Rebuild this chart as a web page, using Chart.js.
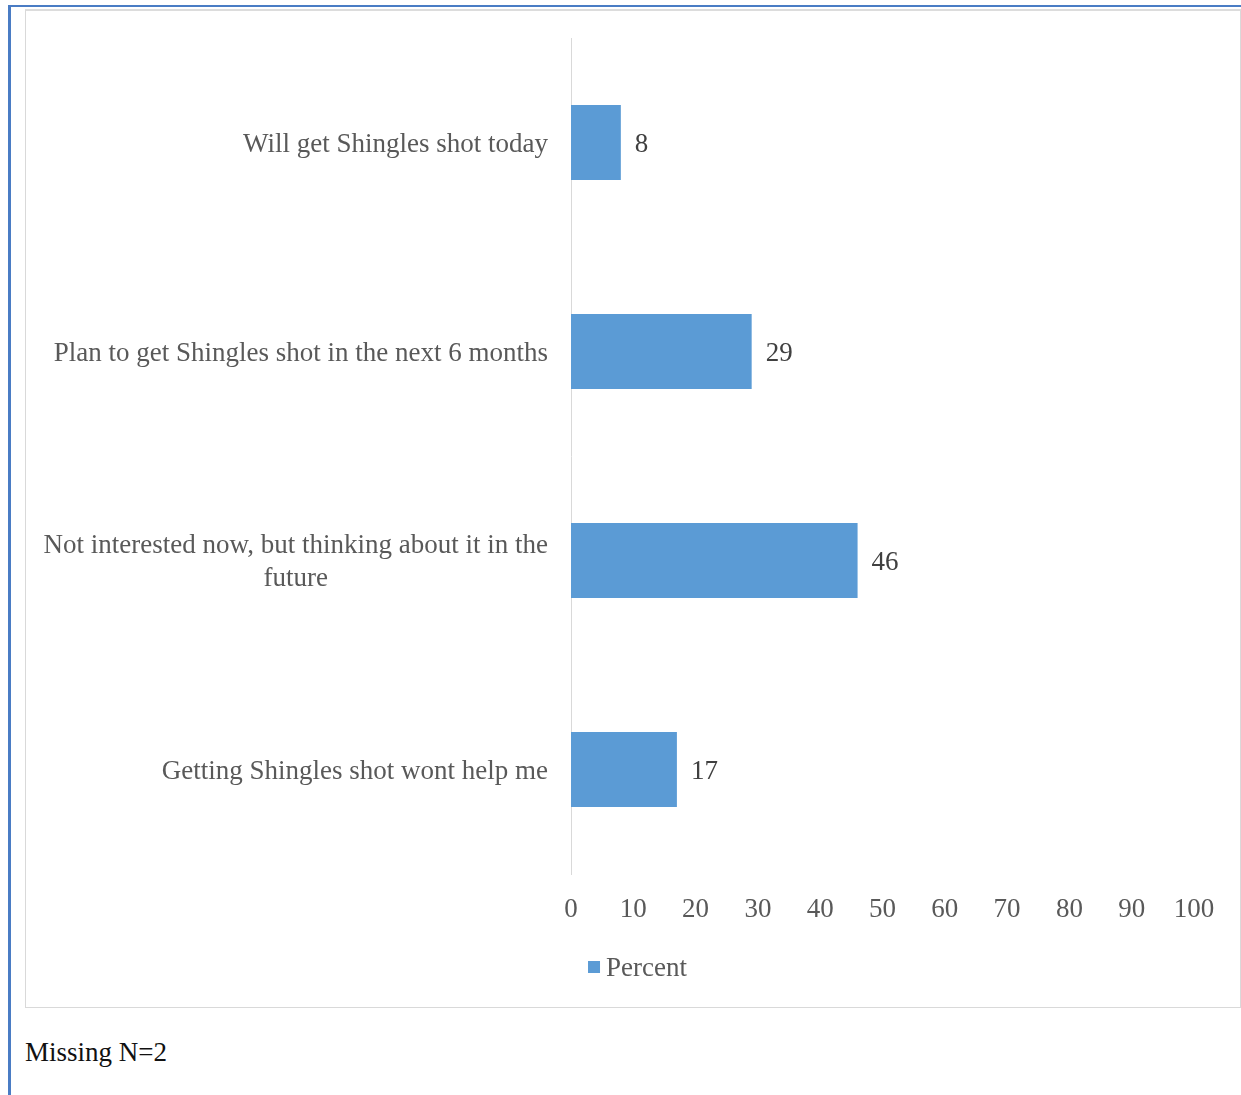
<!DOCTYPE html>
<html>
<head>
<meta charset="utf-8">
<script src="https://cdn.jsdelivr.net/npm/chart.js@4.4.1/dist/chart.umd.min.js"></script>
<style>
    html, body { margin: 0; padding: 0; background: #fff; }
    #frame {
        position: absolute; left: 8px; top: 5px; width: 1240px; height: 1100px;
        border-left: 3px solid #4a7cc4; border-top: 2px solid #4a7cc4;
    }
    #box {
        position: absolute; left: 25px; top: 9px; width: 1214px; height: 996px;
        border: 1px solid #d9d9d9; border-top: 2px solid #dcdcdc;
    }
    #wrap { position: absolute; left: 26px; top: 11px; width: 1213px; height: 994px; }
    #note {
        position: absolute; left: 25px; top: 1037px;
        font-family: "Liberation Serif", "Times New Roman", serif; font-size: 27px; color: #111;
    }
</style>
</head>
<body>
<div id="frame"></div>
<div id="box"></div>
<div id="wrap"><canvas id="chart"></canvas></div>
<div id="note">Missing N=2</div>

<script>
var categories = [
    ["Will get Shingles shot today"],
    ["Plan to get Shingles shot in the next 6 months"],
    ["Not interested now, but thinking about it in the", "future"],
    ["Getting Shingles shot wont help me"]
];
var percent = [8, 29, 46, 17];
var xTicks = [0, 10, 20, 30, 40, 50, 60, 70, 80, 90, 100];

const serif = '"Liberation Serif", "Times New Roman", serif';

// y labels drawn by hand so a wrapped label is centred line by line, like Word does
const yLabels = {
    id: "yLabels",
    afterDraw(chart) {
        const ctx = chart.ctx;
        const y = chart.scales.y;
        ctx.save();
        ctx.font = "27px " + serif;
        ctx.fillStyle = "#595959";
        ctx.textBaseline = "middle";
        ctx.textAlign = "center";
        categories.forEach((lines, i) => {
            const cy = y.getPixelForValue(i) + 2;
            const lh = 33;
            const right = y.right - 23;
            let widest = 0;
            lines.forEach(l => widest = Math.max(widest, ctx.measureText(l).width));
            const mid = right - widest / 2;
            lines.forEach((l, k) => {
                ctx.fillText(l, mid, cy + (k - (lines.length - 1) / 2) * lh);
            });
        });
        ctx.restore();
    }
};

const valueLabels = {
    id: "valueLabels",
    afterDatasetsDraw(chart) {
        const ctx = chart.ctx;
        const meta = chart.getDatasetMeta(0);
        ctx.save();
        ctx.font = "27px " + serif;
        ctx.fillStyle = "#404040";
        ctx.textAlign = "left";
        ctx.textBaseline = "middle";
        meta.data.forEach((bar, i) => {
            ctx.fillText(percent[i], bar.x + 14, bar.y + 2);
        });
        ctx.restore();
    }
};

// small square legend, tighter than the built in one
const legendBox = {
    id: "legendBox",
    afterDraw(chart) {
        const ctx = chart.ctx;
        const ds = chart.data.datasets[0];
        ctx.save();
        ctx.font = "27px " + serif;
        const tw = ctx.measureText(ds.label).width;
        const total = 12 + 6 + tw;
        const x0 = chart.width / 2 + 5 - total / 2;
        const cy = 956;
        ctx.fillStyle = ds.backgroundColor;
        ctx.fillRect(x0, cy - 6, 12, 12);
        ctx.fillStyle = "#595959";
        ctx.textBaseline = "middle";
        ctx.textAlign = "left";
        ctx.fillText(ds.label, x0 + 18, cy + 2);
        ctx.restore();
    }
};

new Chart(document.getElementById("chart"), {
    type: "bar",
    data: {
        labels: categories.map(c => c.join(" ")),
        datasets: [{
            label: "Percent",
            data: percent,
            backgroundColor: "#5b9bd5",
            borderWidth: 0,
            barPercentage: 0.36,
            categoryPercentage: 1
        }]
    },
    options: {
        indexAxis: "y",
        responsive: true,
        maintainAspectRatio: false,
        animation: false,
        layout: { padding: { top: 27, right: 45, bottom: 0, left: 0 } },
        scales: {
            x: {
                min: 0,
                max: 100,
                afterBuildTicks: s => { s.ticks = xTicks.map(v => ({ value: v })); },
                afterFit: s => { s.height = 131; },
                grid: { display: false },
                border: { display: false },
                ticks: {
                    color: "#595959",
                    font: { family: serif, size: 27 },
                    padding: 12,
                    maxRotation: 0
                }
            },
            y: {
                grid: { display: false },
                border: { display: true, color: "#d9d9d9", width: 1 },
                ticks: { display: false },
                afterFit: s => { s.width = 545; }
            }
        },
        plugins: {
            legend: { display: false },
            tooltip: { enabled: false }
        }
    },
    plugins: [yLabels, valueLabels, legendBox]
});
</script>
</body>
</html>
